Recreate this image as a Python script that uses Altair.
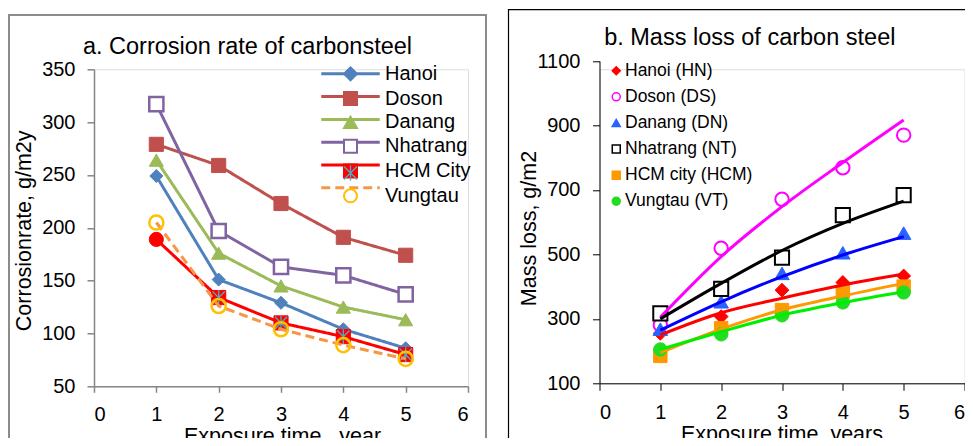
import altair as alt
import pandas as pd

FONT = "Liberation Sans"

# ---------------- data ----------------
years = [1, 2, 3, 4, 5]
x_ticks = [0, 1, 2, 3, 4, 5, 6]

# panel a: corrosion rate, g/m2y
a_series = ["Hanoi", "Doson", "Danang", "Nhatrang", "HCM City", "Vungtau"]
a_hanoi = [249, 151, 129, 104, 86]
a_doson = [279, 259, 223, 191, 174]
a_danang = [264, 176, 145, 125, 113]
a_nhatrang = [317, 197, 163, 155, 137]
a_hcm = [189, 134, 110, 97, 80]
a_vungtau = [205, 126, 104, 89, 76]
a_yticks = [50, 100, 150, 200, 250, 300, 350]

# panel b: mass loss, g/m2 (measured points)
b_series = ["Hanoi (HN)", "Doson (DS)", "Danang (DN)", "Nhatrang (NT)", "HCM city (HCM)", "Vungtau (VT)"]
b_hn = [255, 307, 389, 413, 433]
b_ds = [281, 519, 671, 769, 870]
b_dn = [268, 353, 441, 505, 566]
b_nt = [317, 393, 490, 622, 684]
b_hcm = [185, 271, 327, 384, 400]
b_vt = [205, 252, 311, 351, 382]
# panel b: trend lines read at each year
t_hn = [250, 319, 364, 405, 439]
t_ds = [305, 493, 648, 785, 917]
t_dn = [265, 353, 431, 498, 555]
t_nt = [300, 410, 512, 596, 665]
t_hcm = [195, 268, 328, 371, 410]
t_vt = [205, 260, 311, 350, 384]
b_yticks = [100, 300, 500, 700, 900, 1100]

title_a = "a. Corrosion rate of carbonsteel"
title_b = "b. Mass loss of carbon steel"

a_values = [a_hanoi, a_doson, a_danang, a_nhatrang, a_hcm, a_vungtau]
b_values = [b_hn, b_ds, b_dn, b_nt, b_hcm, b_vt]
b_trends = [t_hn, t_ds, t_dn, t_nt, t_hcm, t_vt]

df_a = pd.DataFrame([
    {"series": s, "year": yr, "value": v}
    for s, vals in zip(a_series, a_values) for yr, v in zip(years, vals)
])
df_b = pd.DataFrame([
    {"site": s, "year": yr, "value": v, "trend": t}
    for s, vals, tr in zip(b_series, b_values, b_trends)
    for yr, v, t in zip(years, vals, tr)
])
one = pd.DataFrame({"k": [0]})

# ---------------- styles ----------------
a_line = ["#4F81BD", "#C0504D", "#9BBB59", "#8064A2", "#FF0000", "#F79646"]
a_shape = ["diamond", "square", "triangle-up", "square", "square", "circle"]
a_fill = ["#4F81BD", "#C0504D", "#9BBB59", "#FFFFFF", "#FF0000", "transparent"]
a_stroke = ["#4F81BD", "#C0504D", "#9BBB59", "#8064A2", "#FF0000", "#FFC000"]
a_dash = [[1, 0], [1, 0], [1, 0], [1, 0], [1, 0], [9, 5]]
STAR = "M-1,-1L1,1M1,-1L-1,1M0,-1.2L0,1.2"
TEAL = "#4BACC6"
a_star = ["transparent", "transparent", "transparent", "transparent", TEAL, "transparent"]

b_line = ["#FF0000", "#FF00FF", "#0000FF", "#000000", "#FF9900", "#00EE00"]
b_shape = ["diamond", "circle", "triangle-up", "square", "square", "circle"]
b_fill = ["#FF0000", "#FFFFFF", "#2A62FF", "#FFFFFF", "#FF9900", "#22DD22"]
b_stroke = ["#FF0000", "#FF00FF", "#2A62FF", "#000000", "#FF9900", "#22DD22"]
b_size = [190, 180, 210, 200, 180, 180]
b_sw = [1, 2, 1, 2, 1, 1]

AXIS_A = dict(grid=False, domainColor="#868686", tickColor="#868686", domainWidth=1.5,
              tickWidth=1.5, labelFontSize=20, titleFontSize=21.5, labelColor="black",
              titleColor="black", titleFontWeight="normal", labelFont=FONT, titleFont=FONT,
              format="d")
AXIS_B = dict(grid=False, domainColor="black", tickColor="black", domainWidth=1,
              tickWidth=1, labelFontSize=20, titleFontSize=21.5, labelColor="black",
              titleColor="black", titleFontWeight="normal", labelFont=FONT, titleFont=FONT,
              format="d")

# ---------------- panel a (plot origin at page 94, 69.3) ----------------
WA, HA = 374, 317
XA = alt.X("year:Q", scale=alt.Scale(domain=[0, 6], nice=False, zero=False),
           axis=alt.Axis(values=x_ticks, title="Exposure time , year", tickSize=6,
                         labelPadding=12, titleX=188, titleY=39.5, titleBaseline="top",
                         titleAlign="center", **AXIS_A))
YA = alt.Y("value:Q", scale=alt.Scale(domain=[50, 350], nice=False, zero=False),
           axis=alt.Axis(values=a_yticks, title="Corrosionrate, g/m2y", tickSize=7,
                         labelPadding=12, titleX=-59, titleY=161, titleAngle=-90,
                         titleBaseline="bottom", titleAlign="center", **AXIS_A))

layers_a = [
    alt.Chart(one).mark_rect(fillOpacity=0, stroke="#8C8C8C", strokeWidth=2).encode(
        x=alt.value(-85), x2=alt.value(392), y=alt.value(-54.3), y2=alt.value(410)),
    alt.Chart(one).mark_text(text=title_a, font=FONT, fontSize=23.5, color="black",
                             align="center", baseline="alphabetic").encode(
        x=alt.value(153.5), y=alt.value(-15.3)),
]
for i, s in enumerate(a_series):
    src = alt.Chart(df_a).transform_filter(alt.datum.series == s)
    layers_a.append(src.mark_line(color=a_line[i], strokeWidth=3, strokeDash=a_dash[i]).encode(x=XA, y=YA))
    if s == "HCM City":
        layers_a.append(src.transform_filter(alt.datum.year == 1).mark_point(
            shape="circle", filled=True, fill=a_fill[i], stroke=a_stroke[i], strokeWidth=1,
            size=200, opacity=1).encode(x=XA, y=YA))
        rest = src.transform_filter(alt.datum.year > 1)
        layers_a.append(rest.mark_point(shape="square", filled=True, fill=a_fill[i],
                                         stroke=a_stroke[i], strokeWidth=1, size=200,
                                         opacity=1).encode(x=XA, y=YA))
        layers_a.append(rest.mark_point(shape=STAR, filled=False, stroke=TEAL, strokeWidth=1.3,
                                         size=150, opacity=1).encode(x=XA, y=YA))
    else:
        layers_a.append(src.mark_point(
            shape=a_shape[i], filled=True, fill=a_fill[i], stroke=a_stroke[i],
            strokeWidth=2.5 if s in ("Nhatrang", "Vungtau") else 1,
            size=200 if s != "Hanoi" else 170, opacity=1).encode(x=XA, y=YA))

# legend-only layers (no data drawn, legend from scale domains)
empty_a = alt.Chart(df_a).transform_filter("false")
LEG_COMMON = dict(orient="none", legendX=246.5, legendY=-5.5, padding=0, title=None,
                  direction="vertical", symbolSize=169, labelFont=FONT, labelFontSize=20,
                  labelColor="black", labelOffset=24.5, rowPadding=2.8)
LINE_PATH = "M-4.5,0H4.5"
leg_l = alt.Legend(labelExpr="''", symbolStrokeWidth=3, symbolFillColor="transparent", **LEG_COMMON)
layers_a.append(empty_a.mark_point(filled=False, opacity=1).encode(
    shape=alt.Shape("series:N", scale=alt.Scale(domain=a_series, range=[LINE_PATH] * 6), legend=leg_l),
    stroke=alt.Stroke("series:N", scale=alt.Scale(domain=a_series, range=a_line), legend=leg_l),
    strokeDash=alt.StrokeDash("series:N", scale=alt.Scale(domain=a_series, range=a_dash), legend=leg_l),
))
leg_m = alt.Legend(symbolStrokeWidth=2, **LEG_COMMON)
layers_a.append(empty_a.mark_point(filled=True, opacity=1).encode(
    shape=alt.Shape("series:N", scale=alt.Scale(domain=a_series, range=a_shape), legend=leg_m),
    stroke=alt.Stroke("series:N", scale=alt.Scale(domain=a_series, range=a_stroke), legend=leg_m),
    fill=alt.Fill("series:N", scale=alt.Scale(domain=a_series, range=a_fill), legend=leg_m),
))
leg_s = alt.Legend(labelExpr="''", symbolStrokeWidth=1.3, symbolFillColor="transparent", **LEG_COMMON)
layers_a.append(empty_a.mark_point(filled=False, opacity=1).encode(
    shape=alt.Shape("series:N", scale=alt.Scale(domain=a_series, range=[STAR] * 6), legend=leg_s),
    stroke=alt.Stroke("series:N", scale=alt.Scale(domain=a_series, range=a_star), legend=leg_s),
))

IND = dict(shape="independent", stroke="independent", fill="independent", strokeDash="independent")
panel_a = alt.layer(*layers_a).resolve_scale(**IND).resolve_legend(**IND).properties(width=WA, height=HA)

# ---------------- panel b (origin at page 600.7, 69.3; 1100 sits 8.3px above) ----------------
WB, HB = 365, 314
YRANGE_B = [314, -8.3]
XB = alt.X("year:Q", scale=alt.Scale(domain=[0, 6], nice=False, zero=False),
           axis=alt.Axis(values=x_ticks, title="Exposure time, years", tickSize=7,
                         labelPadding=12, titleX=182, titleY=40.5, titleBaseline="top",
                         titleAlign="center", **AXIS_B))
AX_YB = alt.Axis(values=b_yticks, title="Mass loss, g/m2", tickSize=7,
                 labelPadding=12.5, titleX=-59, titleY=158.7, titleAngle=-90,
                 titleBaseline="bottom", titleAlign="center", **AXIS_B)
YB = alt.Y("value:Q", scale=alt.Scale(domain=[100, 1100], range=YRANGE_B, nice=False, zero=False), axis=AX_YB)
YT = alt.Y("trend:Q", scale=alt.Scale(domain=[100, 1100], range=YRANGE_B, nice=False, zero=False), axis=AX_YB)

layers_b = [
    alt.Chart(one).mark_rect(fillOpacity=0, stroke="black", strokeWidth=1.2).encode(
        x=alt.value(-91), x2=alt.value(380), y=alt.value(-59.6), y2=alt.value(400)),
    alt.Chart(one).mark_text(text=title_b, font=FONT, fontSize=23.5, color="black",
                             align="center", baseline="alphabetic").encode(
        x=alt.value(150.3), y=alt.value(-24.3)),
]
for i, s in enumerate(b_series):
    src = alt.Chart(df_b).transform_filter(alt.datum.site == s)
    layers_b.append(src.mark_point(shape=b_shape[i], filled=True, fill=b_fill[i], stroke=b_stroke[i],
                                   strokeWidth=b_sw[i], size=b_size[i], opacity=1).encode(x=XB, y=YB))
for i, s in enumerate(b_series):
    src = alt.Chart(df_b).transform_filter(alt.datum.site == s)
    layers_b.append(src.mark_line(color=b_line[i], strokeWidth=3, interpolate="monotone").encode(x=XB, y=YT))

empty_b = alt.Chart(df_b).transform_filter("false")
leg_b = alt.Legend(orient="none", legendX=8, legendY=-7.3, padding=0, title=None, direction="vertical",
                   symbolSize=64, symbolStrokeWidth=1.5, labelFont=FONT, labelFontSize=17.5,
                   labelColor="black", labelOffset=0, rowPadding=7.1)
layers_b.append(empty_b.mark_point(filled=True, opacity=1).encode(
    shape=alt.Shape("site:N", scale=alt.Scale(domain=b_series, range=b_shape), legend=leg_b),
    stroke=alt.Stroke("site:N", scale=alt.Scale(domain=b_series, range=b_stroke), legend=leg_b),
    fill=alt.Fill("site:N", scale=alt.Scale(domain=b_series, range=b_fill), legend=leg_b),
))

panel_b = alt.layer(*layers_b).properties(width=WB, height=HB)

chart = alt.hconcat(panel_a, panel_b, spacing=18.5).resolve_scale(**IND).resolve_legend(**IND).properties(
    autosize=alt.AutoSizeParams(type="none"),
    padding={"left": 86, "top": 61.3, "right": 871, "bottom": 368.7},
    background="white",
).configure_view(stroke=None).configure(font=FONT)

chart.save("out.html", embed_options={"renderer": "svg", "actions": False})
